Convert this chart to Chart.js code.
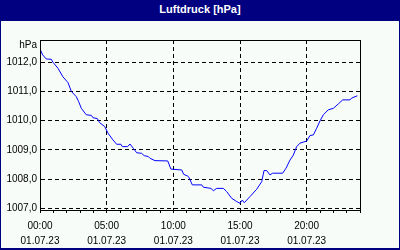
<!DOCTYPE html>
<html>
<head>
<meta charset="utf-8">
<script src="https://cdn.jsdelivr.net/npm/chart.js@4/dist/chart.umd.min.js"></script>
<style>
  html, body { margin: 0; padding: 0; background: #f8fcf8; }
  #frame { width: 400px; height: 250px; box-sizing: border-box; border: 1px solid #000080; border-top: 0; border-bottom-width: 2px; background: #f8fcf8; }
  #title { height: 21px; margin: 0 -1px; background: #000080; color: #fff; font: bold 11px "Liberation Sans", Arial, sans-serif; text-align: center; line-height: 19px; }
  #wrap { position: relative; width: 398px; height: 227px; }
</style>
</head>
<body>
<div id="frame">
  <div id="title">Luftdruck [hPa]</div>
  <div id="wrap"><canvas id="chart"></canvas></div>
</div>
<script>
// Stunden seit 00:00 am 01.07.23 und Luftdruck in hPa
const hours = [0, 0.2, 0.47, 0.85, 0.97, 1.35, 1.72, 2.1, 2.35, 2.72, 2.9, 3.1, 3.47, 3.85, 3.97, 4.3, 4.47, 4.85,
  5.1, 5.47, 5.75, 6.07, 6.17, 6.57, 6.75, 7.0, 7.25, 7.62, 7.82, 8.12, 8.25, 8.62, 9.58, 9.82, 10.63, 10.78,
  11.08, 11.17, 11.42, 12.13, 12.25, 12.82, 13.0, 13.25, 13.75, 14.0, 14.38, 14.75, 15.0, 15.17, 15.32, 15.75,
  16.25, 16.63, 16.8, 17.0, 17.25, 17.44, 18.2, 18.45, 18.75, 19.0, 19.25, 19.5, 20.0, 20.25, 20.5, 20.75,
  21.0, 21.25, 21.62, 22.0, 22.37, 22.7, 23.25, 23.37, 23.8];
const pressure = [1012.45, 1012.25, 1012.11, 1012.10, 1012.0, 1011.79, 1011.5, 1011.3, 1011.0, 1010.82, 1010.65,
  1010.42, 1010.2, 1010.18, 1010.1, 1010.07, 1009.93, 1009.8, 1009.57, 1009.34, 1009.19, 1009.19, 1009.11,
  1009.11, 1009.2, 1009.05, 1008.9, 1008.88, 1008.8, 1008.77, 1008.71, 1008.63, 1008.62, 1008.34, 1008.31,
  1008.16, 1008.1, 1008.06, 1007.8, 1007.8, 1007.72, 1007.68, 1007.6, 1007.68, 1007.68, 1007.57, 1007.34,
  1007.23, 1007.17, 1007.28, 1007.19, 1007.4, 1007.65, 1007.91, 1008.29, 1008.29, 1008.14, 1008.2, 1008.2,
  1008.37, 1008.65, 1008.82, 1009.11, 1009.23, 1009.3, 1009.49, 1009.51, 1009.74, 1009.99, 1010.2, 1010.37,
  1010.42, 1010.57, 1010.71, 1010.71, 1010.77, 1010.85];
const yTicks = [1007, 1008, 1009, 1010, 1011, 1012];
const unitLabel = 'hPa';
const dateLabel = '01.07.23';

const font = { family: '"Liberation Sans", Arial, sans-serif', size: 10 };

// Rahmen um die Zeichenfläche
const frame = {
  id: 'frame',
  afterDraw(chart) {
    const {ctx, chartArea: a} = chart;
    ctx.save();
    ctx.strokeStyle = '#000';
    ctx.lineWidth = 1;
    ctx.strokeRect(Math.round(a.left) + 0.5, Math.round(a.top) + 0.5,
      Math.round(a.right - a.left), Math.round(a.bottom - a.top));
    ctx.restore();
  }
};

new Chart(document.getElementById('chart'), {
  type: 'line',
  data: {
    datasets: [{
      data: hours.map((h, i) => ({x: h, y: pressure[i]})),
      borderColor: '#0000ff',
      borderWidth: 1,
      pointRadius: 0,
      tension: 0
    }]
  },
  options: {
    responsive: true,
    maintainAspectRatio: false,
    animation: false,
    events: [],
    layout: { padding: { left: 0, right: 39, top: 19, bottom: 0 } },
    plugins: { legend: { display: false }, tooltip: { enabled: false } },
    scales: {
      x: {
        type: 'linear',
        min: 0,
        max: 24,
        afterFit: s => { s.height = 38; },
        ticks: {
          stepSize: 1,
          autoSkip: false,
          maxRotation: 0,
          padding: 5,
          color: '#000',
          font: { ...font, lineHeight: 1.55 },
          callback: v => v % 5 === 0 ? [String(v).padStart(2, '0') + ':00', dateLabel] : ''
        },
        grid: {
          color: c => c.tick && c.tick.value % 5 === 0 && c.tick.value > 0 ? '#000' : 'transparent',
          tickColor: '#000',
          tickLength: 3,
          tickBorderDash: []
        },
        border: { color: '#000', dash: [4, 3] }
      },
      y: {
        min: 1006.94,
        max: 1012.76,
        afterFit: s => { s.width = 39; },
        afterBuildTicks: s => { s.ticks = yTicks.concat([1012.59]).map(v => ({value: v})); },
        ticks: {
          padding: 3,
          color: '#000',
          font: font,
          callback: v => v > 1012.5 ? unitLabel : v.toFixed(1).replace('.', ',')
        },
        grid: {
          color: c => c.tick && c.tick.value < 1012.5 ? '#000' : 'transparent',
          drawTicks: false
        },
        border: { color: '#000', dash: [4, 3] }
      }
    }
  },
  plugins: [frame]
});
</script>
</body>
</html>
